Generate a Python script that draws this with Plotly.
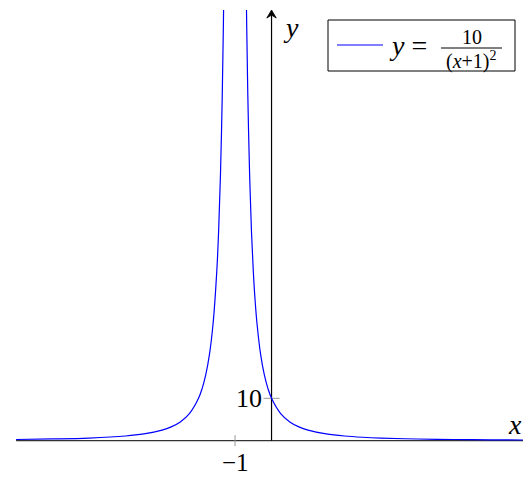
import plotly.graph_objects as go

# values of y = 10/(x+1)^2, split at the asymptote x = -1
left_x = [-7, -6, -5, -4, -3.5, -3, -2.75, -2.5, -2.25, -2, -1.9, -1.8, -1.7,
          -1.6, -1.5, -1.45, -1.4, -1.35, -1.32, -1.3]
left_y = [0.28, 0.41, 0.63, 1.11, 1.6, 2.5, 3.27, 4.44, 6.4, 10, 12.35, 15.63,
          20.41, 27.78, 40, 49.38, 62.5, 81.63, 97.66, 111.1]
right_x = [-0.7, -0.68, -0.65, -0.6, -0.55, -0.5, -0.45, -0.4, -0.3, -0.2, -0.1,
           0, 0.25, 0.5, 0.75, 1, 1.5, 2, 2.5, 3, 4, 5, 6, 7]
right_y = [111.1, 97.66, 81.63, 62.5, 49.38, 40, 33.06, 27.78, 20.41, 15.63,
           12.35, 10, 6.4, 4.44, 3.27, 2.5, 1.6, 1.11, 0.82, 0.63, 0.4, 0.28,
           0.2, 0.16]

x_ticks = [-1]
x_tick_text = ["\u22121"]
y_ticks = [10]
y_tick_text = ["10"]

W, H = 523, 477
TOP = 10
XMIN, XMAX = -7.44, 6.89
YMIN, YMAX = -8.56, 101.6
SERIF = "Liberation Serif, Times New Roman, serif"
BLUE = "#0000ff"


def px(x):
    return x / W


def py(y):
    return (H - y) / (H - TOP)


fig = go.Figure()
for xs, ys in [(left_x, left_y), (right_x, right_y)]:
    fig.add_trace(go.Scatter(x=xs, y=ys, mode="lines",
                             line=dict(color=BLUE, width=1.2, shape="spline"),
                             showlegend=False, hoverinfo="skip"))

shapes = []
# axes
shapes.append(dict(type="line", x0=-7, x1=7.2, y0=0, y1=0,
                   line=dict(color="#333333", width=1.2), layer="below"))
shapes.append(dict(type="line", x0=0, x1=0, y0=0, y1=YMAX - 0.8,
                   line=dict(color="black", width=1.2), layer="below"))
# arrow head of the y axis
shapes.append(dict(type="path",
                   path=f"M 0,{YMAX} L -0.13,{YMAX - 1.9} L 0,{YMAX - 1.2} "
                        f"L 0.13,{YMAX - 1.9} Z",
                   fillcolor="black", line=dict(color="black", width=0.8)))
# tick marks
for t in x_ticks:
    shapes.append(dict(type="line", x0=t, x1=t, y0=-1.3, y1=1.3,
                       line=dict(color="#999999", width=1), layer="below"))
for t in y_ticks:
    shapes.append(dict(type="line", x0=-0.22, x1=0.22, y0=t, y1=t,
                       line=dict(color="#999999", width=1), layer="below"))

# legend box
shapes.append(dict(type="rect", xref="paper", yref="paper",
                   x0=px(328), x1=px(515), y0=py(71), y1=py(20),
                   line=dict(color="black", width=1), fillcolor="white"))
shapes.append(dict(type="line", xref="paper", yref="paper",
                   x0=px(337), x1=px(383), y0=py(45), y1=py(45),
                   line=dict(color=BLUE, width=1)))
shapes.append(dict(type="line", xref="paper", yref="paper",
                   x0=px(441), x1=px(502), y0=py(48), y1=py(48),
                   line=dict(color="black", width=1)))


def label(x, y, text, size, xanchor="center", ref="paper", **kw):
    return dict(x=x, y=y, xref=ref, yref=ref, text=text, showarrow=False,
                xanchor=xanchor, yanchor="middle",
                font=dict(family=SERIF, size=size, color="black"), **kw)


annotations = []
for t, s in zip(x_ticks, x_tick_text):
    annotations.append(label(t, 0, s, 25, ref="x", yshift=-22))
    annotations[-1]["yref"] = "y"
for t, s in zip(y_ticks, y_tick_text):
    annotations.append(label(0, t, s, 26, xanchor="right", ref="x", xshift=-8))
    annotations[-1]["yref"] = "y"

annotations.append(label(px(515), py(424), "<i>x</i>", 28))
annotations.append(label(px(291), py(27), "<i>y</i>", 28))

# legend text
annotations.append(label(px(387), py(45), "<i>y</i> =", 28, xanchor="left"))
annotations.append(label(px(472), py(37), "10", 20))
annotations.append(label(px(471), py(60), "(<i>x</i>+1)<sup>2</sup>", 20))

fig.update_layout(
    width=W, height=H,
    margin=dict(l=0, r=0, t=TOP, b=0),
    paper_bgcolor="white", plot_bgcolor="white",
    xaxis=dict(range=[XMIN, XMAX], visible=False, fixedrange=True),
    yaxis=dict(range=[YMIN, YMAX], visible=False, fixedrange=True),
    shapes=shapes,
    annotations=annotations,
    showlegend=False,
)

fig.write_html("out.html", config={"displayModeBar": False},
               post_script="document.body.style.margin='0';")
